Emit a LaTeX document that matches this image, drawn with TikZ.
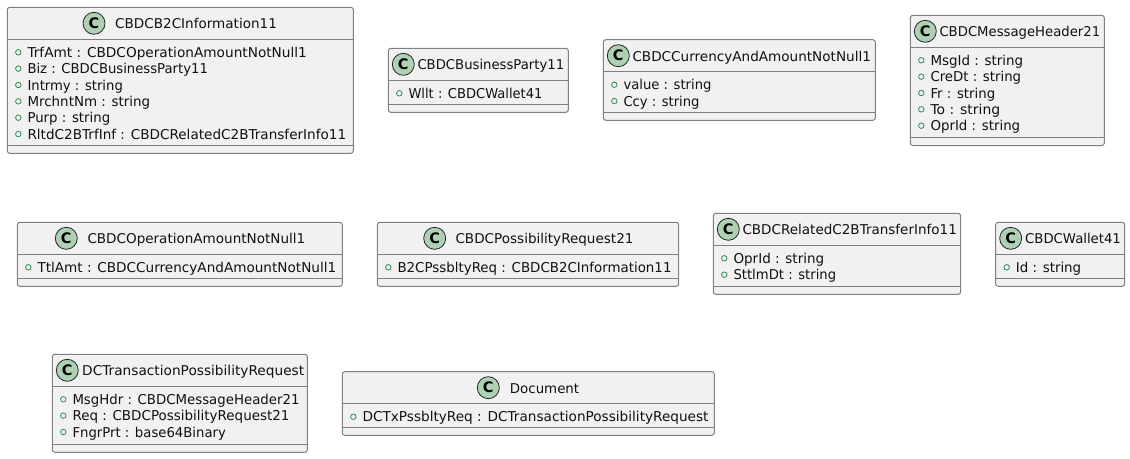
\documentclass[tikz,border=0pt]{standalone}
\usepackage{graphicx}
\usepackage{fontspec}
\setmainfont{DejaVu Sans}
\definecolor{boxfill}{HTML}{F1F1F1}
\definecolor{boxline}{HTML}{7F7F7F}
\definecolor{spotfill}{HTML}{ADD1B2}
\definecolor{txt}{HTML}{111111}
\definecolor{vis}{HTML}{2E8B57}
\tikzset{
  classbox/.style={draw=boxline,fill=boxfill,line width=1pt,rounded corners=2.5pt},
  divider/.style={draw=boxline,line width=1pt},
  spot/.style={circle,draw=black!70!boxline,fill=spotfill,line width=0.8pt,minimum size=22pt,inner sep=0pt,font=\fontsize{14.5}{15}\selectfont\bfseries},
  title/.style={inner sep=0pt,anchor=base west,text=txt,font=\fontsize{13.5}{15}\selectfont},
  member/.style={inner sep=0pt,anchor=base west,text=txt,font=\fontsize{13.6}{15}\selectfont},
  vismark/.style={circle,draw=vis,line width=0.8pt,minimum size=5.5pt,inner sep=0pt}
}
\newcommand{\fitw}[2]{\resizebox{#1pt}{\height}{#2}}
% #1 name, #2 x1, #3 y1, #4 x2, #5 y2, #6 spot x, #7 title x, #8 title, #9 members (width/text)
\newcommand{\umlclass}[9]{%
  \path[classbox] (#2,#3) rectangle (#4,#5);
  \node[spot] (#1spot) at (#6,#3+16) {C};
  \node[title] (#1title) at (#7,#3+21.5) {#8};
  \draw[divider] (#2,#3+32.2) -- (#4,#3+32.2);
  \draw[divider] (#2,#5-8) -- (#4,#5-8);
  \foreach \w/\t [count=\i] in {#9} {
    \node[vismark] (#1vis\i) at (#2+11,#3+45+16.35*\i-16.35) {};
    \node[member] (#1m\i) at (#2+20,#3+50+16.35*\i-16.35) {\fitw{\w}{\t}};
  }
}
\begin{document}
\begin{tikzpicture}[x=1pt,y=-1pt]
\useasboundingbox (0,0) rectangle (1130,458);
\umlclass{a}{7.3}{7.3}{353.3}{153.3}{94}{115}{\fitw{161.7}{CBDCB2CInformation11}}{279.4/TrfAmt : CBDCOperationAmountNotNull1,180.4/Biz : CBDCBusinessParty11,95.4/Intrmy : string,122.7/MrchntNm : string,82.7/Purp : string,318.7/RltdC2BTrfInf : CBDCRelatedC2BTransferInfo11}
\umlclass{b}{388.3}{48.3}{568.3}{112.3}{403.3}{417.3}{\fitw{146.7}{CBDCBusinessParty11}}{134/Wllt : CBDCWallet41}
\umlclass{c}{603.3}{39.7}{875.3}{120.3}{618.3}{632.3}{\fitw{238.4}{CBDCCurrencyAndAmountNotNull1}}{88/value : string,76/Ccy : string}
\umlclass{d}{910.3}{15.3}{1104.3}{145.5}{925.3}{939.3}{\fitw{160.7}{CBDCMessageHeader21}}{92.7/MsgId : string,90.7/CreDt : string,64.7/Fr : string,69.7/To : string,89.7/OprId : string}
\umlclass{e}{17.3}{222.3}{342.3}{286.3}{66.3}{87.3}{\fitw{217.7}{CBDCOperationAmountNotNull1}}{298.7/TtlAmt : CBDCCurrencyAndAmountNotNull1}
\umlclass{f}{377.3}{222.3}{678.7}{286.3}{434.7}{455.3}{\fitw{178}{CBDCPossibilityRequest21}}{274/B2CPssbltyReq : CBDCB2CInformation11}
\umlclass{g}{713.3}{213.3}{960.7}{294.3}{728.3}{742.3}{\fitw{214.4}{CBDCRelatedC2BTransferInfo11}}{90.7/OprId : string,102.7/SttlmDt : string}
\umlclass{h}{995.7}{222.3}{1124.7}{286.3}{1010.7}{1025}{\fitw{95.7}{CBDCWallet41}}{65.3/Id : string}
\umlclass{i}{52.3}{354.3}{307.3}{452.3}{67.3}{82}{\fitw{222}{DCTransactionPossibilityRequest}}{227/MsgHdr : CBDCMessageHeader21,217/Req : CBDCPossibilityRequest21,153.4/FngrPrt : base64Binary}
\umlclass{j}{342.3}{371.7}{714.3}{435.3}{488.3}{509.7}{\fitw{69.3}{Document}}{346/DCTxPssbltyReq : DCTransactionPossibilityRequest}
\end{tikzpicture}
\end{document}
